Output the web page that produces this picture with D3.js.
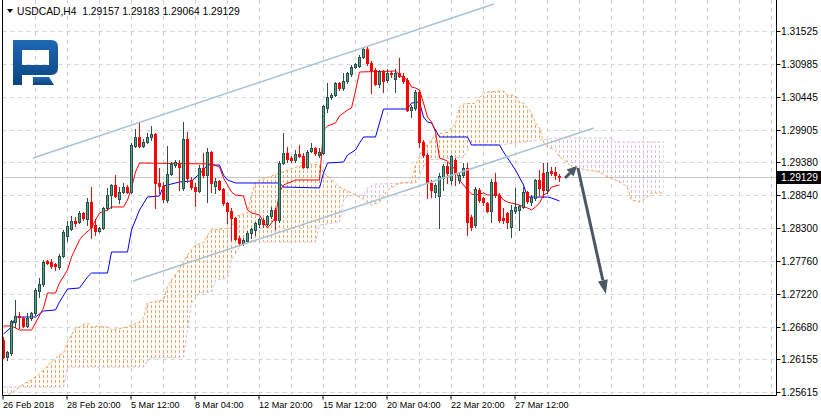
<!DOCTYPE html>
<html><head><meta charset="utf-8">
<script src="https://cdn.jsdelivr.net/npm/d3@7/dist/d3.min.js"></script>
<style>body{margin:0;background:#fff}svg{display:block}text{font-family:"Liberation Sans",Arial,sans-serif;fill:#000}</style>
</head><body><svg id="c" width="821" height="416"></svg>
<script>
// ---------- DATA ----------
const symbolTitle = "USDCAD,H4  1.29157 1.29183 1.29064 1.29129";
const timeLabels = ["26 Feb 2018","28 Feb 20:00","5 Mar 12:00","8 Mar 04:00","12 Mar 20:00","15 Mar 12:00","20 Mar 04:00","22 Mar 20:00","27 Mar 12:00"];
const timeLabelBars = [0,16,32,48,64,80,96,112,128];
const priceTicks = [1.31525,1.30985,1.30445,1.29905,1.29380,1.28840,1.28300,1.27760,1.27220,1.26680,1.26155,1.25615];
const lastPrice = 1.29129;

const opens = [1.26466,1.26188,1.26254,1.26761,1.26860,1.26827,1.26696,1.26827,1.26909,1.27269,
1.27384,1.27760,1.27743,1.27711,1.27661,1.27842,1.28169,1.28284,1.28415,1.28398,
1.28546,1.28447,1.28725,1.28349,1.28251,1.28300,1.28627,1.28840,1.29004,1.28775,
1.28889,1.28971,1.28889,1.29643,1.29790,1.29643,1.29708,1.29790,1.29839,1.29037,
1.28988,1.28758,1.29184,1.29331,1.29364,1.28955,1.29757,1.29086,1.28971,1.28906,
1.29282,1.29167,1.29544,1.28988,1.29069,1.28939,1.28709,1.28579,1.28464,1.28136,
1.28055,1.28087,1.28218,1.28267,1.28366,1.28431,1.28366,1.28497,1.28595,1.28431,
1.29364,1.29528,1.29446,1.29413,1.29511,1.29479,1.29298,1.29561,1.29610,1.29495,
1.29528,1.30264,1.30445,1.30477,1.30674,1.30592,1.30707,1.30821,1.30936,1.30952,
1.31099,1.31230,1.31001,1.30887,1.30657,1.30870,1.30723,1.30838,1.30739,1.30838,
1.30789,1.30723,1.30232,1.30264,1.30526,1.29708,1.29495,1.29037,1.28889,1.28824,
1.29118,1.29315,1.29086,1.29413,1.29086,1.29167,1.29282,1.28480,1.28349,1.28922,
1.28791,1.28709,1.28579,1.29053,1.28840,1.28464,1.28546,1.28316,1.28579,1.28595,
1.28644,1.28889,1.28725,1.28791,1.29086,1.29200,1.28922,1.29233,1.29217,1.29157];
const highs = [1.26515,1.26287,1.26794,1.27121,1.26925,1.26843,1.26909,1.26925,1.27318,1.27481,
1.27776,1.27776,1.27793,1.27727,1.27875,1.28267,1.28415,1.28497,1.28480,1.28579,
1.28562,1.28791,1.28971,1.28447,1.28316,1.28644,1.28955,1.29020,1.29168,1.28971,
1.29037,1.29004,1.29691,1.29921,1.30019,1.29757,1.29855,1.29970,1.29855,1.29282,
1.29053,1.29643,1.29380,1.29413,1.29413,1.30035,1.29871,1.29135,1.29037,1.29331,
1.29528,1.29610,1.29561,1.29118,1.29086,1.28955,1.28725,1.28627,1.28480,1.28169,
1.28136,1.28251,1.28300,1.28398,1.28464,1.28464,1.28513,1.28644,1.28627,1.29397,
1.29855,1.29626,1.29479,1.29577,1.29659,1.29528,1.29577,1.29692,1.29626,1.29610,
1.30314,1.30674,1.30510,1.30690,1.30690,1.30838,1.30854,1.30969,1.31001,1.31132,
1.31263,1.31263,1.31034,1.30920,1.30887,1.30887,1.30903,1.30870,1.30903,1.31083,
1.30838,1.30756,1.30314,1.30559,1.30543,1.29741,1.29528,1.29086,1.29037,1.29200,
1.29348,1.29380,1.29495,1.29446,1.29200,1.29364,1.29364,1.28513,1.28971,1.28955,
1.28807,1.28725,1.29102,1.29200,1.28873,1.28627,1.28562,1.28676,1.28955,1.28676,
1.28971,1.28906,1.28840,1.29102,1.29249,1.29364,1.29364,1.29298,1.29298,1.29183];
const lows = [1.26172,1.26139,1.26221,1.26679,1.26663,1.26679,1.26679,1.26794,1.26876,1.27170,
1.27351,1.27711,1.27645,1.27612,1.27628,1.27825,1.28087,1.28267,1.28333,1.28382,
1.28431,1.28349,1.28136,1.28185,1.28234,1.28284,1.28595,1.28627,1.28807,1.28709,
1.28873,1.28873,1.28873,1.29626,1.29626,1.29626,1.29692,1.29741,1.28627,1.28873,
1.28725,1.28725,1.29167,1.29298,1.28922,1.28922,1.29053,1.28939,1.28660,1.28889,
1.29135,1.28725,1.28889,1.28873,1.28922,1.28676,1.28382,1.28104,1.28104,1.28039,
1.28022,1.28071,1.28136,1.28185,1.28316,1.28316,1.28349,1.28464,1.28284,1.28398,
1.29348,1.29380,1.29380,1.29380,1.29462,1.29282,1.29282,1.29544,1.29495,1.29462,
1.29511,1.30199,1.30412,1.30461,1.30559,1.30559,1.30674,1.30789,1.30920,1.30936,
1.31083,1.30969,1.30510,1.30641,1.30608,1.30526,1.30690,1.30772,1.30526,1.30772,
1.30674,1.30215,1.30117,1.30232,1.29626,1.29462,1.28791,1.28807,1.28807,1.28300,
1.28922,1.29037,1.29020,1.29004,1.29037,1.29135,1.28185,1.28267,1.28316,1.28725,
1.28676,1.28562,1.28398,1.28807,1.28398,1.28382,1.28300,1.28152,1.28546,1.28267,
1.28627,1.28709,1.28676,1.28758,1.28840,1.28807,1.28873,1.29167,1.29102,1.29064];
const closes = [1.26188,1.26270,1.26778,1.26860,1.26843,1.26696,1.26827,1.26909,1.27285,1.27384,
1.27743,1.27727,1.27678,1.27678,1.27842,1.28234,1.28333,1.28415,1.28382,1.28546,
1.28464,1.28725,1.28316,1.28251,1.28300,1.28627,1.28840,1.29004,1.28824,1.28889,
1.28971,1.28889,1.29659,1.29790,1.29643,1.29708,1.29790,1.29839,1.29037,1.28988,
1.28775,1.29184,1.29348,1.29380,1.29298,1.29757,1.29118,1.28971,1.28906,1.29282,
1.29167,1.29544,1.29037,1.29069,1.28939,1.28709,1.28579,1.28464,1.28120,1.28055,
1.28104,1.28218,1.28284,1.28382,1.28447,1.28366,1.28497,1.28595,1.28431,1.29364,
1.29528,1.29430,1.29413,1.29511,1.29479,1.29298,1.29544,1.29610,1.29528,1.29544,
1.30297,1.30445,1.30477,1.30674,1.30592,1.30707,1.30838,1.30936,1.30985,1.31099,
1.31230,1.31001,1.30887,1.30657,1.30870,1.30706,1.30838,1.30821,1.30838,1.30789,
1.30707,1.30232,1.30281,1.30526,1.29708,1.29495,1.29037,1.28922,1.29004,1.29151,
1.29315,1.29200,1.29479,1.29200,1.29167,1.29282,1.28398,1.28316,1.28939,1.28758,
1.28725,1.28579,1.29053,1.28840,1.28431,1.28431,1.28398,1.28595,1.28644,1.28660,
1.28889,1.28742,1.28807,1.29086,1.28955,1.28922,1.29217,1.29200,1.29167,1.29129];

// Ichimoku lines as [bar index, price] points
const tenkan = [[0,1.26696],[2,1.26696],[3,1.26663],[4,1.26630],[7,1.26630],[8,1.26745],[10,1.26991],[11,1.27236],[13,1.27236],[14,1.27400],[16,1.27612],[17,1.27825],[19,1.28104],[20,1.28185],[22,1.28300],[23,1.28431],[24,1.28546],[26,1.28595],[27,1.28644],[30,1.28644],[31,1.28758],[32,1.28955],[33,1.29217],[34,1.29364],[52,1.29348],[54,1.29298],[55,1.29118],[57,1.28889],[58,1.28840],[60,1.28824],[61,1.28595],[62,1.28546],[64,1.28513],[65,1.28398],[66,1.28300],[67,1.28382],[68,1.28480],[69,1.28889],[70,1.29004],[73,1.29086],[79,1.29086],[80,1.29904],[81,1.29970],[83,1.30019],[84,1.30134],[86,1.30232],[87,1.30264],[88,1.30543],[89,1.30854],[98,1.30870],[99,1.30805],[101,1.30723],[102,1.30608],[103,1.30592],[104,1.30559],[105,1.30346],[106,1.30117],[107,1.30035],[108,1.29871],[109,1.29446],[111,1.29397],[113,1.29249],[114,1.29086],[116,1.28922],[117,1.28857],[118,1.28840],[120,1.28873],[121,1.28840],[124,1.28840],[125,1.28758],[126,1.28725],[128,1.28693],[129,1.28676],[131,1.28627],[132,1.28595],[133,1.28644],[134,1.28709],[135,1.28840],[136,1.28873],[137,1.28971],[139,1.29004]];
const kijun = [[0,1.26565],[2,1.26679],[3,1.26843],[8,1.26843],[10,1.26941],[13,1.26958],[14,1.27088],[16,1.27301],[19,1.27318],[21,1.27498],[22,1.27563],[26,1.27563],[27,1.27907],[31,1.27907],[32,1.28267],[34,1.28595],[36,1.28807],[39,1.28824],[40,1.28988],[44,1.29053],[47,1.29069],[49,1.29184],[51,1.29331],[54,1.29331],[55,1.29167],[56,1.29086],[58,1.29037],[69,1.29037],[70,1.28971],[79,1.28955],[80,1.29200],[81,1.29364],[85,1.29380],[86,1.29495],[88,1.29577],[89,1.29691],[90,1.29790],[93,1.29790],[94,1.30019],[95,1.30248],[101,1.30248],[102,1.30346],[104,1.30362],[105,1.30117],[106,1.30035],[107,1.30019],[109,1.29790],[116,1.29790],[117,1.29659],[124,1.29659],[125,1.29544],[126,1.29446],[128,1.29249],[130,1.29004],[131,1.28807],[136,1.28807],[137,1.28791],[139,1.28742]];
const spanA = [[0,1.25550],[2,1.25599],[5,1.25746],[7,1.25812],[10,1.25975],[12,1.26106],[14,1.26221],[15,1.26254],[16,1.26434],[17,1.26548],[18,1.26663],[19,1.26679],[21,1.26745],[22,1.26679],[24,1.26696],[26,1.26679],[27,1.26630],[31,1.26679],[34,1.26761],[35,1.26827],[36,1.27072],[40,1.27121],[41,1.27334],[42,1.27449],[44,1.27629],[45,1.27743],[46,1.27858],[47,1.27940],[48,1.28022],[50,1.28055],[51,1.28185],[52,1.28267],[57,1.28300],[58,1.28480],[59,1.28513],[61,1.28546],[62,1.28840],[63,1.29037],[64,1.29086],[67,1.29151],[71,1.29249],[74,1.29315],[77,1.29348],[79,1.29331],[80,1.29200],[82,1.29102],[84,1.28971],[88,1.28840],[90,1.28775],[92,1.28676],[94,1.28725],[96,1.28922],[99,1.29037],[102,1.29053],[103,1.29331],[104,1.29462],[105,1.29626],[106,1.29659],[108,1.29823],[111,1.29871],[113,1.30019],[114,1.30281],[115,1.30330],[118,1.30346],[119,1.30428],[120,1.30510],[121,1.30526],[125,1.30543],[126,1.30477],[128,1.30461],[129,1.30362],[130,1.30346],[131,1.30264],[132,1.30183],[133,1.30019],[134,1.29937],[135,1.29708],[136,1.29626],[138,1.29577],[139,1.29462],[141,1.29380],[142,1.29298],[146,1.29249],[149,1.29217],[151,1.29135],[152,1.29118],[155,1.29020],[156,1.28955],[157,1.28758],[159,1.28725],[161,1.28807],[162,1.28873],[165,1.28873]];
const spanB = [[0,1.25697],[15,1.25697],[16,1.26024],[35,1.26024],[36,1.26123],[37,1.26172],[45,1.26188],[46,1.26630],[47,1.27072],[49,1.27236],[52,1.27252],[53,1.27449],[56,1.27481],[57,1.27776],[59,1.27989],[60,1.28071],[78,1.28071],[79,1.28349],[84,1.28398],[85,1.28758],[86,1.28824],[90,1.28840],[91,1.28955],[93,1.29020],[103,1.29037],[104,1.29168],[106,1.29413],[115,1.29462],[116,1.29577],[117,1.29659],[124,1.29659],[134,1.29741],[138,1.29774],[152,1.29774],[153,1.29708],[165,1.29708]];

// drawn objects: [bar index, price]
const channelUpper = [[7.4,1.29446],[122.6,1.31967]];
const channelLower = [[32.4,1.27433],[147.6,1.29937]];
const arrowShort = [[140.4,1.29119],[143.4,1.29315]];
const arrowLong = [[143.6,1.29282],[150.6,1.27220]];

// ---------- RENDER ----------
const svg = d3.select("#c");
const lastBar = spanA[spanA.length-1][0];
const xS = d3.scaleLinear().domain([0,165]).range([3.5,663.5]);
const yS = d3.scaleLinear().domain([1.25615,1.31525]).range([392,31]);
const plotL = 2.5, plotR = 776.5, plotB = 395.5;
const crisp = v => Math.round(v) + 0.5;

const defs = svg.append("defs");
defs.append("clipPath").attr("id","plotClip").append("rect").attr("x",3).attr("y",0).attr("width",773).attr("height",395);
const grad = defs.append("linearGradient").attr("id","logoGrad").attr("x1",0).attr("y1",0).attr("x2",0).attr("y2",1);
grad.append("stop").attr("offset","0%").attr("stop-color","#1f68b5");
grad.append("stop").attr("offset","100%").attr("stop-color","#0b447f");

const plot = svg.append("g").attr("clip-path","url(#plotClip)");

// grid
const gGrid = plot.append("g").attr("stroke","#d4d4d4").attr("stroke-dasharray","4,4").attr("stroke-width",1);
for (let k=1; xS(8*k) < plotR; k++) {
  gGrid.append("line").attr("x1",xS(8*k)).attr("x2",xS(8*k)).attr("y1",0).attr("y2",plotB);
}
priceTicks.forEach(t=>{
  gGrid.append("line").attr("x1",plotL).attr("x2",plotR).attr("y1",crisp(yS(t))).attr("y2",crisp(yS(t)));
});

// logo
const logo = svg.append("g").attr("fill","url(#logoGrad)");
logo.append("path").attr("fill-rule","evenodd")
  .attr("d","M13,40 H51 Q58,40 58,47 V68 Q58,75 51,75 H22 V85 H13 Z M22,50 V65 H49 V50 Z");
logo.append("path").attr("d","M33,77 H49 L54,85 H33 Z");

// bid line
plot.append("line").attr("x1",plotL).attr("x2",plotR)
  .attr("y1",crisp(yS(lastPrice))).attr("y2",crisp(yS(lastPrice)))
  .attr("stroke","#c8c8c8").attr("stroke-width",1);

// cloud: vertical dotted hatch at each bar, clipped between the two spans
const lineGen = d3.line().x(d=>xS(d[0])).y(d=>yS(d[1]));
const ptsA = spanA.map(d=>[xS(d[0]),yS(d[1])]);
const ptsB = spanB.map(d=>[xS(d[0]),yS(d[1])]);
const between = "M" + ptsA.concat(ptsB.slice().reverse()).map(p=>p.join(",")).join("L") + "Z";
const x0 = xS(0)-3, x1 = xS(lastBar)+3;
const belowA = "M" + ptsA.map(p=>p.join(",")).join("L") + `L${x1},${ptsA[ptsA.length-1][1]}L${x1},400L${x0},400L${x0},${ptsA[0][1]}Z`;
const aboveA = "M" + ptsA.map(p=>p.join(",")).join("L") + `L${x1},${ptsA[ptsA.length-1][1]}L${x1},-5L${x0},-5L${x0},${ptsA[0][1]}Z`;
defs.append("clipPath").attr("id","clipBelowA").append("path").attr("d",belowA);
defs.append("clipPath").attr("id","clipAboveA").append("path").attr("d",aboveA);
defs.append("clipPath").attr("id","clipBetween").append("path").attr("d",between);
const bars = d3.range(0, lastBar+1);
[["clipBelowA","#F4A460"],["clipAboveA","#D8BFD8"]].forEach(([cid,col])=>{
  const g = plot.append("g").attr("clip-path",`url(#${cid})`).append("g").attr("clip-path","url(#clipBetween)");
  g.selectAll("line").data(bars).join("line")
    .attr("x1",d=>xS(d)).attr("x2",d=>xS(d)).attr("y1",0).attr("y2",plotB)
    .attr("stroke",col).attr("stroke-width",1).attr("stroke-dasharray","3,2");
});
plot.append("path").attr("d",lineGen(spanB)).attr("fill","none").attr("stroke","#D8BFD8").attr("stroke-dasharray","3,2");
plot.append("path").attr("d",lineGen(spanA)).attr("fill","none").attr("stroke","#F4A460").attr("stroke-dasharray","3,2");

// tenkan / kijun
plot.append("path").attr("d",lineGen(kijun)).attr("fill","none").attr("stroke","#0000FF").attr("stroke-width",1);
plot.append("path").attr("d",lineGen(tenkan)).attr("fill","none").attr("stroke","#FF0000").attr("stroke-width",1);

// candles
const gC = plot.append("g");
opens.forEach((o,i)=>{
  const c = closes[i], h = highs[i], l = lows[i];
  const cx = xS(i);
  const bull = c >= o;
  gC.append("line").attr("x1",cx).attr("x2",cx)
    .attr("y1",Math.round(yS(h))).attr("y2",Math.round(yS(l))+1)
    .attr("stroke", bull ? "#2F4F4F" : "#FF0000");
  const top = Math.round(yS(Math.max(o,c)));
  const bot = Math.round(yS(Math.min(o,c)));
  const bh = Math.max(1, bot - top + 1);
  if (bull) {
    gC.append("rect").attr("x",cx-1.5).attr("y",top).attr("width",3).attr("height",bh).attr("fill","#2F4F4F");
    if (bh > 2) gC.append("rect").attr("x",cx-0.5).attr("y",top+1).attr("width",1).attr("height",bh-2).attr("fill","#4CA77A");
  } else {
    gC.append("rect").attr("x",cx-1.5).attr("y",top).attr("width",3).attr("height",bh).attr("fill","#FF0000");
  }
});

// channel lines
[channelUpper, channelLower].forEach(ch=>{
  plot.append("path").attr("d",lineGen(ch)).attr("fill","none").attr("stroke","#A9C2D3").attr("stroke-width",1.5);
});

// arrows
function arrow(seg, len, wid){
  const [a,b] = seg.map(d=>[xS(d[0]),yS(d[1])]);
  const ang = Math.atan2(b[1]-a[1], b[0]-a[0]);
  const bx = b[0]-Math.cos(ang)*len, by = b[1]-Math.sin(ang)*len;
  plot.append("line").attr("x1",a[0]).attr("y1",a[1]).attr("x2",bx).attr("y2",by)
    .attr("stroke","#4A5866").attr("stroke-width",3);
  const px = -Math.sin(ang)*wid/2, py = Math.cos(ang)*wid/2;
  plot.append("path").attr("d",`M${b[0]},${b[1]}L${bx+px},${by+py}L${bx-px},${by-py}Z`).attr("fill","#4A5866");
}
arrow(arrowShort, 10, 10);
arrow(arrowLong, 14, 10);

// frame
const frame = svg.append("g").attr("stroke","#000").attr("stroke-width",1);
frame.append("line").attr("x1",plotL).attr("x2",plotL).attr("y1",0).attr("y2",plotB);
frame.append("line").attr("x1",plotR).attr("x2",plotR).attr("y1",0).attr("y2",plotB);
frame.append("line").attr("x1",plotL).attr("x2",plotR).attr("y1",plotB).attr("y2",plotB);

// price axis
priceTicks.forEach(t=>{
  const yy = crisp(yS(t));
  svg.append("line").attr("x1",plotR).attr("x2",plotR+4).attr("y1",yy).attr("y2",yy).attr("stroke","#000");
  svg.append("text").attr("x",781).attr("y",yy+3.5).attr("font-size","10.2px").text(t.toFixed(5));
});
// last price box
const ly = crisp(yS(lastPrice));
svg.append("rect").attr("x",777).attr("y",ly-6.5).attr("width",44).attr("height",13).attr("fill","#000");
svg.append("text").attr("x",781).attr("y",ly+3.5).attr("font-size","10.2px").style("fill","#fff").text(lastPrice.toFixed(5));

// time axis
timeLabelBars.forEach((b,k)=>{
  const xx = xS(b) - 0.5;
  svg.append("line").attr("x1",xx).attr("x2",xx).attr("y1",plotB).attr("y2",plotB+4).attr("stroke","#000");
  svg.append("text").attr("x",xx).attr("y",408).attr("font-size","9.1px").text(timeLabels[k]);
});

// title
svg.append("path").attr("d","M7,9 L13,9 L10,13 Z").attr("fill","#000");
svg.append("text").attr("x",17).attr("y",14.5).attr("font-size","10.3px").style("white-space","pre").text(symbolTitle);
</script>
</body></html>
